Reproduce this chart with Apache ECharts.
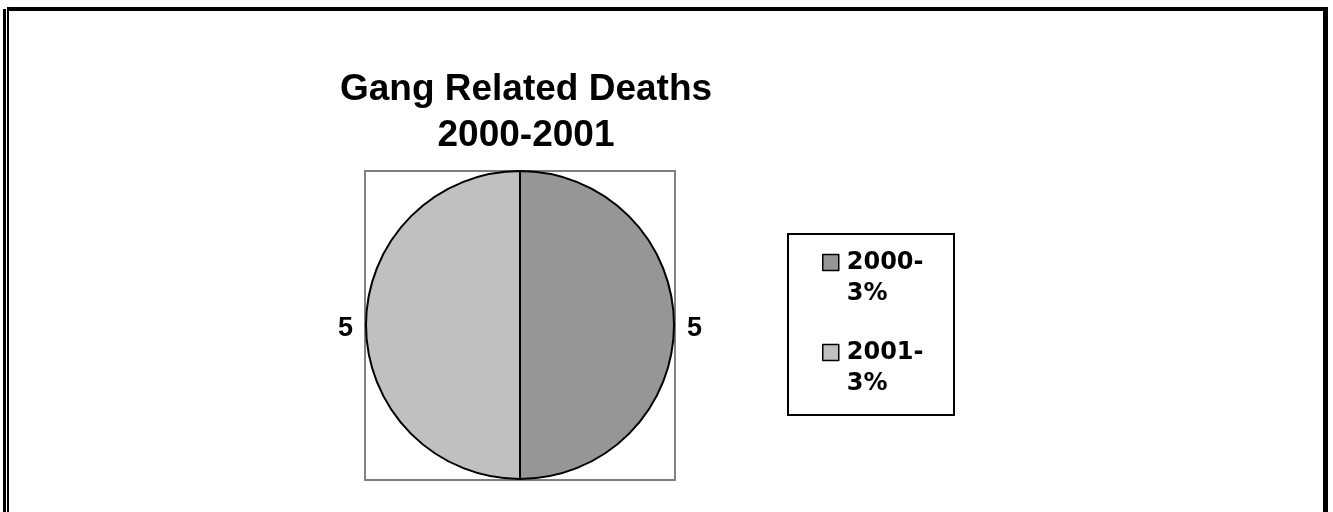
<!DOCTYPE html>
<html>
<head>
<meta charset="utf-8">
<script src="https://cdn.jsdelivr.net/npm/echarts@6/dist/echarts.min.js"></script>
<style>
  html, body { margin: 0; padding: 0; background: #fff; }
  #chart { width: 1333px; height: 512px; }
</style>
</head>
<body>
<div id="chart"></div>
<script>
// Gang related deaths by year
const categories = ['2000-3%', '2001-3%'];
const values = [5, 5];
const sliceColors = ['#969696', '#c0c0c0'];
const titleLines = ['Gang Related Deaths', '2000-2001'];

const chart = echarts.init(document.getElementById('chart'), null, { renderer: 'canvas' });

const pieData = categories.map((name, i) => ({
  name: name,
  value: values[i],
  itemStyle: { color: sliceColors[i] }
}));

const option = {
  backgroundColor: '#ffffff',
  animation: false,
  title: {
    text: titleLines.join('\n'),
    left: 521,
    textAlign: 'center',
    top: 62,
    textStyle: {
      fontFamily: 'Liberation Sans, Arial, sans-serif',
      fontWeight: 'bold',
      fontSize: 37,
      lineHeight: 46,
      color: '#000'
    }
  },
  legend: {
    orient: 'vertical',
    left: 822,
    top: 216,
    padding: 0,
    itemGap: -3,
    itemWidth: 16,
    itemHeight: 16,
    icon: 'rect',
    selectedMode: false,
    data: categories,
    // leading blank line keeps the first text line level with the swatch
    formatter: name => '\n' + name.replace('-', '-\n'),
    itemStyle: { borderColor: '#000', borderWidth: 1.5 },
    textStyle: {
      fontFamily: 'DejaVu Sans, Verdana, sans-serif',
      fontWeight: 'bold',
      fontSize: 24,
      lineHeight: 31,
      padding: [0, 0, 0, 3],
      color: '#000'
    }
  },
  graphic: [
    // outer frame
    { type: 'rect', shape: { x: 3, y: 9, width: 3, height: 510 }, style: { fill: '#000' }, silent: true },
    { type: 'rect', shape: { x: 7, y: 7, width: 2, height: 510 }, style: { fill: '#000' }, silent: true },
    { type: 'rect', shape: { x: 7, y: 7, width: 1321, height: 4 }, style: { fill: '#000' }, silent: true },
    { type: 'rect', shape: { x: 1323, y: 7, width: 5, height: 510 }, style: { fill: '#000' }, silent: true },
    // plot area box
    { type: 'rect', z: -1, shape: { x: 365, y: 171, width: 310, height: 309 },
      style: { fill: 'none', stroke: '#808080', lineWidth: 2 }, silent: true },
    // legend box
    { type: 'rect', shape: { x: 788, y: 234, width: 166, height: 181 },
      style: { fill: 'none', stroke: '#000', lineWidth: 2 }, silent: true }
  ],
  series: [{
    type: 'pie',
    center: [520, 325],
    radius: 154,
    startAngle: 90,
    clockwise: true,
    avoidLabelOverlap: false,
    silent: true,
    emphasis: { disabled: true },
    itemStyle: { borderColor: '#000', borderWidth: 2 },
    label: {
      show: true,
      position: 'outside',
      formatter: '{v|{c}}',
      rich: {
        v: {
          fontFamily: 'Liberation Sans, Arial, sans-serif',
          fontWeight: 'bold',
          fontSize: 27,
          lineHeight: 30,
          padding: [7, 0, 0, 0],
          color: '#000'
        }
      }
    },
    labelLine: { show: false, length: 8, length2: 0 },
    data: pieData
  }]
};

chart.setOption(option);
</script>
</body>
</html>
